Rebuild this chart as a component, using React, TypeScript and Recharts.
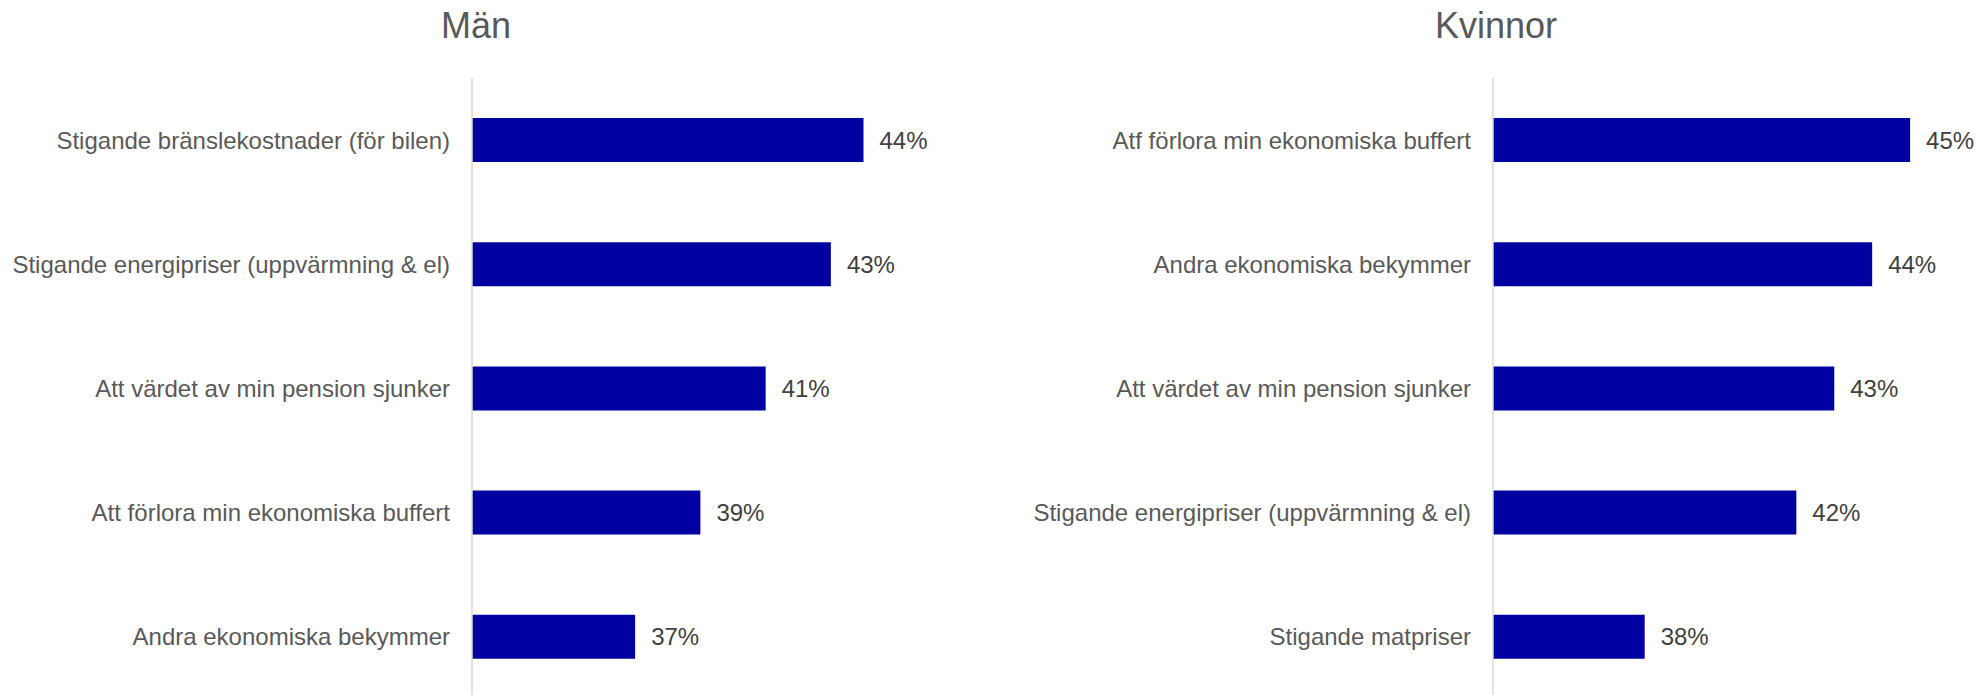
import { Bar, BarChart, LabelList, XAxis, YAxis } from "recharts";

const menCategories = [
  "Stigande bränslekostnader (för bilen)",
  "Stigande energipriser (uppvärmning & el)",
  "Att värdet av min pension sjunker",
  "Att förlora min ekonomiska buffert",
  "Andra ekonomiska bekymmer",
];
const menValues = [44, 43, 41, 39, 37];

const womenCategories = [
  "Atf förlora min ekonomiska buffert",
  "Andra ekonomiska bekymmer",
  "Att värdet av min pension sjunker",
  "Stigande energipriser (uppvärmning & el)",
  "Stigande matpriser",
];
const womenValues = [45, 44, 43, 42, 38];

const FONT = '"Liberation Sans", Arial, Helvetica, sans-serif';
const BAR_COLOR = "#0000A0";

interface PanelProps {
  categories: string[];
  values: number[];
  domain: [number, number];
  left: number;
  width: number;
  axisWidth: number;
  rightMargin: number;
}

function Panel({ categories, values, domain, left, width, axisWidth, rightMargin }: PanelProps) {
  const data = categories.map((name, i) => ({ name, value: values[i] }));
  return (
    <div style={{ position: "absolute", left, top: 0 }}>
      <BarChart
        width={width}
        height={699}
        data={data}
        layout="vertical"
        margin={{ top: 78, right: rightMargin, bottom: 0, left: 0 }}
      >
        <XAxis type="number" domain={domain} allowDataOverflow hide />
        <YAxis
          type="category"
          dataKey="name"
          width={axisWidth}
          axisLine={{ stroke: "#d9d9d9", strokeWidth: 1.5 }}
          tickLine={false}
          tickSize={0}
          tickMargin={22}
          interval={0}
          tick={{ fontSize: 24, fill: "#595959", fontFamily: FONT }}
        />
        <Bar dataKey="value" fill={BAR_COLOR} barSize={44} isAnimationActive={false}>
          <LabelList
            dataKey="value"
            position="right"
            offset={16}
            formatter={(v: number) => `${v}%`}
            style={{ fontSize: 24, fill: "#404040", fontFamily: FONT }}
          />
        </Bar>
      </BarChart>
    </div>
  );
}

const titleStyle = {
  position: "absolute" as const,
  top: 8,
  width: 200,
  textAlign: "center" as const,
  fontSize: 36,
  lineHeight: "36px",
  color: "#595959",
  fontFamily: FONT,
};

export default function App() {
  return (
    <div
      style={{
        position: "absolute",
        left: 0,
        top: 0,
        width: 1976,
        height: 695,
        overflow: "hidden",
        background: "#fff",
      }}
    >
      <div style={{ ...titleStyle, left: 376 }}>Män</div>
      <div style={{ ...titleStyle, left: 1396 }}>Kvinnor</div>
      <Panel
        categories={menCategories}
        values={menValues}
        domain={[32, 48]}
        left={0}
        width={994}
        axisWidth={472}
        rightMargin={0}
      />
      <Panel
        categories={womenCategories}
        values={womenValues}
        domain={[34, 46]}
        left={1000}
        width={976}
        axisWidth={493}
        rightMargin={28}
      />
    </div>
  );
}
